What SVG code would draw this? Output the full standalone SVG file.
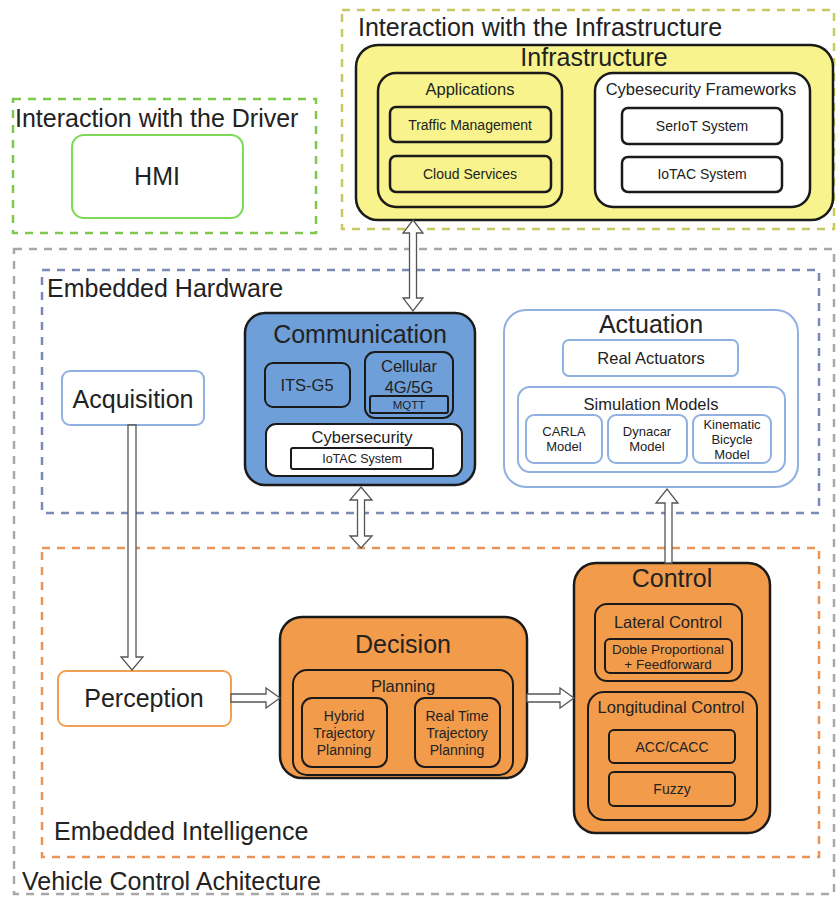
<svg xmlns="http://www.w3.org/2000/svg" width="837" height="897" viewBox="0 0 837 897">
<style>
text{font-family:"Liberation Sans",Arial,sans-serif;fill:#222;text-anchor:middle}
.zone{fill:none;stroke-width:2.5;stroke-dasharray:8 7}
.lbl{text-anchor:start;font-size:25px}
.blk{stroke:#1a1a1a;stroke-width:2.5}
.thin{stroke:#1a1a1a;stroke-width:2}
.yel{fill:#f8f38c}
.blu{fill:#6e9fd8}
.org{fill:#f29b4b}
.wht{fill:#fff}
.lb{fill:#fff;stroke:#8fb0e0;stroke-width:2}
.arr{fill:#fff;stroke:#555;stroke-width:1.3}
.t22{font-size:25px}
.t15{font-size:16.5px}
.t13{font-size:14px}
.t12{font-size:13px}
</style>

<g id="zones">
  <rect class="zone" x="14" y="249" width="820" height="645" stroke="#a8a8a8"/>
  <text class="lbl" x="22" y="890">Vehicle Control Achitecture</text>
  <rect class="zone" x="42" y="270" width="777" height="243" stroke="#7a8ab8"/>
  <text class="lbl" x="47" y="297">Embedded Hardware</text>
  <rect class="zone" x="42" y="548" width="777" height="309" stroke="#e8955a"/>
  <text class="lbl" x="54" y="840">Embedded Intelligence</text>
  <rect class="zone" x="342" y="10" width="492" height="219" stroke="#c8c860"/>
  <text class="lbl" x="358" y="36">Interaction with the Infrastructure</text>
  <rect class="zone" x="13" y="99" width="303" height="134" stroke="#7cc850"/>
  <text class="lbl" x="15" y="127">Interaction with the Driver</text>
</g>

<g id="infrastructure">
  <rect class="yel blk" x="356" y="45" width="477" height="175" rx="22"/>
  <text class="t22" x="594" y="66">Infrastructure</text>
  <rect class="yel blk" x="378" y="73" width="184" height="134" rx="18"/>
  <text class="t15" x="470" y="95">Applications</text>
  <rect class="yel blk" x="390" y="107" width="161" height="35" rx="6"/>
  <text class="t13" x="470" y="130">Traffic Management</text>
  <rect class="yel blk" x="390" y="156" width="161" height="36" rx="6"/>
  <text class="t13" x="470" y="179">Cloud Services</text>
  <rect class="wht blk" x="595" y="73" width="215" height="134" rx="18"/>
  <text class="t15" x="701" y="95">Cybesecurity Frameworks</text>
  <rect class="wht blk" x="622" y="108" width="160" height="36" rx="6"/>
  <text class="t13" x="702" y="131">SerIoT System</text>
  <rect class="wht blk" x="622" y="157" width="160" height="35" rx="6"/>
  <text class="t13" x="702" y="179">IoTAC System</text>
</g>

<g id="hmi">
  <rect x="72" y="135" width="171" height="83" rx="12" fill="#fff" stroke="#7ed957" stroke-width="2"/>
  <text class="t22" x="157" y="185">HMI</text>
</g>

<g id="communication">
  <rect class="blu blk" x="245" y="313" width="230" height="172" rx="20"/>
  <text class="t22" x="360" y="343">Communication</text>
  <rect class="blu thin" x="265" y="363" width="85" height="44" rx="8"/>
  <text class="t15" x="307" y="391">ITS-G5</text>
  <rect class="blu thin" x="365" y="352" width="88" height="66" rx="10"/>
  <text class="t15" x="409" y="372">Cellular</text>
  <text class="t15" x="409" y="393">4G/5G</text>
  <rect class="blu thin" x="370" y="396" width="78" height="17" rx="2"/>
  <text style="font-size:11.5px" x="409" y="409">MQTT</text>
  <rect class="wht thin" x="266" y="424" width="196" height="52" rx="10"/>
  <text class="t15" x="362" y="443">Cybersecurity</text>
  <rect class="wht thin" x="291" y="448" width="142" height="21" rx="2"/>
  <text style="font-size:12.5px" x="362" y="463">IoTAC System</text>
</g>

<g id="actuation">
  <rect class="lb" x="504" y="310" width="294" height="177" rx="22"/>
  <text class="t22" x="651" y="333">Actuation</text>
  <rect class="lb" x="563" y="340" width="175" height="36" rx="6"/>
  <text class="t15" x="651" y="364">Real Actuators</text>
  <rect class="lb" x="518" y="387" width="267" height="85" rx="12"/>
  <text class="t15" x="651" y="410">Simulation Models</text>
  <rect class="lb" x="526" y="415" width="76" height="48" rx="8"/>
  <text class="t12" x="564" y="436">CARLA</text>
  <text class="t12" x="564" y="451">Model</text>
  <rect class="lb" x="608" y="415" width="79" height="48" rx="8"/>
  <text class="t12" x="647" y="436">Dynacar</text>
  <text class="t12" x="647" y="451">Model</text>
  <rect class="lb" x="693" y="415" width="78" height="48" rx="8"/>
  <text class="t12" x="732" y="429">Kinematic</text>
  <text class="t12" x="732" y="444">Bicycle</text>
  <text class="t12" x="732" y="459">Model</text>
</g>

<g id="acquisition">
  <rect class="lb" x="62" y="371" width="142" height="54" rx="8"/>
  <text class="t22" x="133" y="408">Acquisition</text>
</g>

<g id="perception">
  <rect x="58" y="671" width="173" height="55" rx="8" fill="#fff" stroke="#f0a050" stroke-width="2"/>
  <text class="t22" x="144" y="707">Perception</text>
</g>

<g id="decision">
  <rect class="org blk" x="280" y="617" width="247" height="161" rx="22"/>
  <text class="t22" x="403" y="653">Decision</text>
  <rect class="org thin" x="293" y="670" width="220" height="105" rx="14"/>
  <text class="t15" x="403" y="692">Planning</text>
  <rect class="org thin" x="302" y="698" width="85" height="69" rx="10"/>
  <text class="t13" x="344" y="721">Hybrid</text>
  <text class="t13" x="344" y="738">Trajectory</text>
  <text class="t13" x="344" y="755">Planning</text>
  <rect class="org thin" x="415" y="698" width="85" height="69" rx="10"/>
  <text class="t13" x="457" y="721">Real Time</text>
  <text class="t13" x="457" y="738">Trajectory</text>
  <text class="t13" x="457" y="755">Planning</text>
</g>

<g id="control">
  <rect class="org blk" x="574" y="563" width="196" height="270" rx="22"/>
  <text class="t22" x="672" y="587">Control</text>
  <rect class="org thin" x="595" y="604" width="147" height="77" rx="12"/>
  <text class="t15" x="668" y="628">Lateral Control</text>
  <rect class="org thin" x="605" y="639" width="127" height="34" rx="5"/>
  <text style="font-size:13.5px" x="668" y="654">Doble Proportional</text>
  <text style="font-size:13.5px" x="668" y="669">+ Feedforward</text>
  <rect class="org thin" x="588" y="692" width="169" height="128" rx="16"/>
  <text class="t15" x="671" y="713">Longitudinal Control</text>
  <rect class="org thin" x="609" y="730" width="126" height="33" rx="5"/>
  <text class="t13" x="672" y="752">ACC/CACC</text>
  <rect class="org thin" x="609" y="772" width="126" height="34" rx="5"/>
  <text class="t13" x="672" y="794">Fuzzy</text>
</g>

<g id="connectors">
  <!-- Infrastructure <-> Communication -->
  <polygon class="arr" points="413,220 423,233 416.5,233 416.5,298 423,298 413,311 403,298 409.5,298 409.5,233 403,233"/>
  <!-- Communication <-> Embedded Intelligence -->
  <polygon class="arr" points="361,487 372,500 364.5,500 364.5,536 372,536 361,548 350,536 357.5,536 357.5,500 350,500"/>
  <!-- Acquisition -> Perception -->
  <polygon class="arr" points="128,425 136,425 136,657 143,657 132,670 121,657 128,657"/>
  <!-- Perception -> Decision -->
  <polygon class="arr" points="231,694 266,694 266,688 280,698 266,708 266,702 231,702"/>
  <!-- Decision -> Control -->
  <polygon class="arr" points="527,694 560,694 560,688 574,698 560,708 560,702 527,702"/>
  <!-- Control -> Actuation -->
  <polygon class="arr" points="665,563 665,503 656,503 667,489 678,503 672,503 672,563"/>
</g>
</svg>
